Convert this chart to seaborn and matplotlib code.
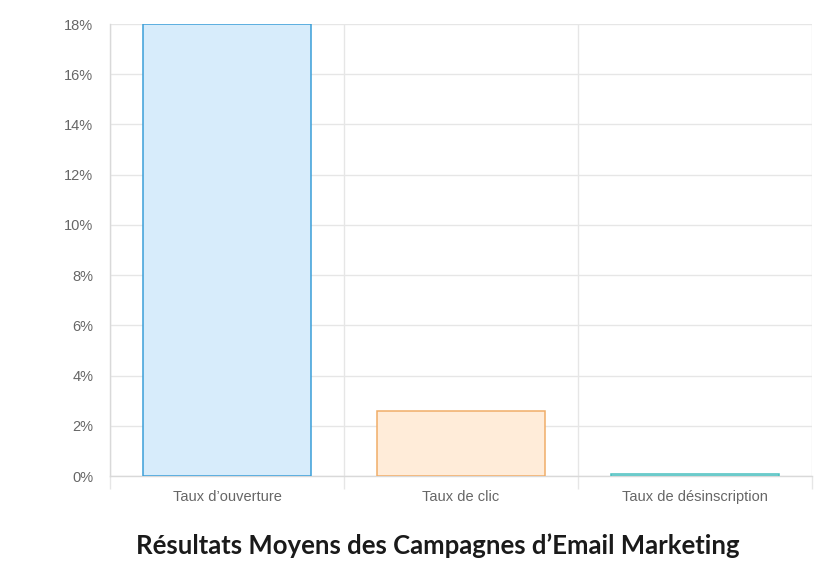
import matplotlib
matplotlib.use("Agg")
import matplotlib.pyplot as plt
import seaborn as sns
import pandas as pd
from matplotlib.ticker import FixedLocator, FuncFormatter

# données
categories = ["Taux d\u2019ouverture", "Taux de clic", "Taux de désinscription"]
valeurs = [18.0, 2.6, 0.08]
couleurs_fond = ["#d7ecfb", "#ffecd9", "#dbf2f2"]
couleurs_bord = ["#3b9fd8", "#f0ad68", "#4bc0c0"]
graduations_y = [0, 2, 4, 6, 8, 10, 12, 14, 16, 18]

sns.set_theme(style="white")
plt.rcParams["font.family"] = ["Liberation Sans", "DejaVu Sans"]

df = pd.DataFrame({"categorie": categories, "valeur": valeurs})

fig = plt.figure(figsize=(8.33, 5.68), dpi=100)
ax = fig.add_axes([110 / 833, 1 - 476 / 568, 702 / 833, 452 / 568])

sns.barplot(data=df, x="categorie", y="valeur", hue="categorie",
            palette=couleurs_fond, width=0.72, ax=ax, legend=False,
            linewidth=1.1, saturation=1)
for patch, bord in zip(ax.patches, couleurs_bord):
    patch.set_edgecolor(bord)
    patch.set_zorder(3)

ax.set_xlim(-0.5, 2.5)
ax.set_ylim(0, 18)
ax.yaxis.set_major_locator(FixedLocator(graduations_y))
ax.yaxis.set_major_formatter(FuncFormatter(lambda v, p: f"{v:.0f}%"))
ax.xaxis.set_minor_locator(FixedLocator([-0.5, 0.5, 1.5, 2.5]))

ax.grid(True, axis="y", which="major", color="#e6e6e6", linewidth=1, zorder=0)
ax.grid(True, axis="x", which="minor", color="#e6e6e6", linewidth=1, zorder=0)
ax.set_axisbelow(True)

for s in ["top", "right"]:
    ax.spines[s].set_visible(False)
for s in ["left", "bottom"]:
    ax.spines[s].set_color("#d9d9d9")
    ax.spines[s].set_linewidth(1)

ax.tick_params(axis="y", which="major", length=8, color="#e6e6e6",
               labelsize=10.5, labelcolor="#666666", pad=4)
ax.tick_params(axis="x", which="major", length=0, labelsize=10.5,
               labelcolor="#666666", pad=10)
ax.tick_params(axis="x", which="minor", length=9, color="#e6e6e6", bottom=True)

ax.set_xlabel("")
ax.set_ylabel("")

fig.text(438 / 833, 1 - 546 / 568, "Résultats Moyens des Campagnes d\u2019Email Marketing",
         ha="center", va="center", fontsize=18.5, fontweight="bold",
         color="#1a1a1a", family=["Lato", "DejaVu Sans"])

fig.savefig("out.png", dpi=100)
